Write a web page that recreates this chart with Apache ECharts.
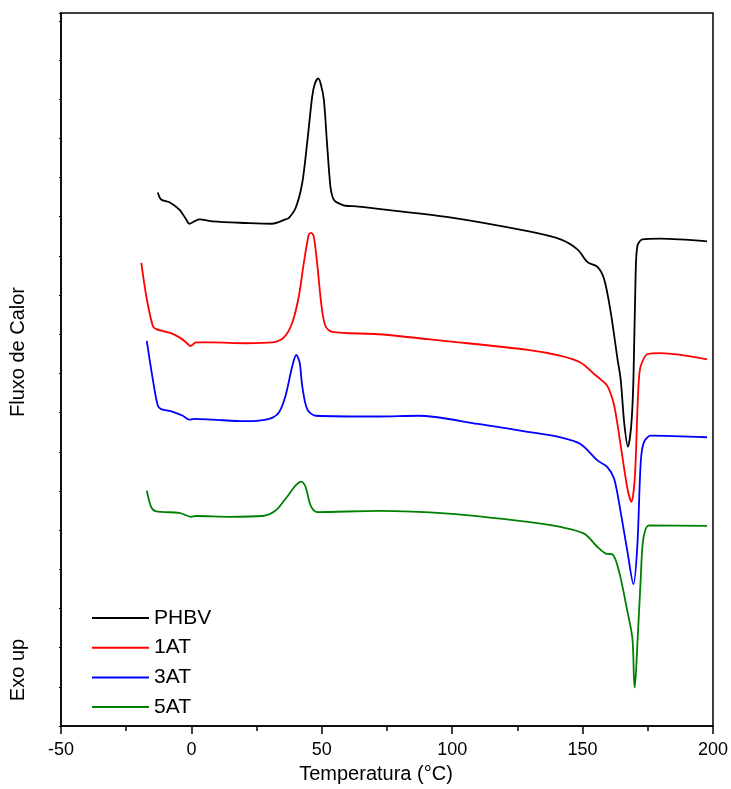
<!DOCTYPE html>
<html>
<head>
<meta charset="utf-8">
<script src="https://cdn.jsdelivr.net/npm/echarts@6/dist/echarts.min.js"></script>
<style>html,body{margin:0;padding:0;background:#fff}#c{width:731px;height:789px}</style>
</head>
<body>
<div id="c"></div>
<script>
// Temperature (°C) and heat flow (arbitrary units)
const seriesNames = ['PHBV', '1AT', '3AT', '5AT'];
const seriesColors = ['#000000', '#ff0000', '#0000ff', '#008000'];
const xTicks = [-50, 0, 50, 100, 150, 200];

const phbv = [
  [-12.9,13.62],[-11.6,13.44],[-8.4,13.37],[-4.6,13.18],[-2.0,12.93],[-0.8,12.82],[1.1,12.88],[3.1,12.93],
  [8.1,12.88],[20.9,12.84],[30.9,12.82],[36.1,12.93],[37.4,12.97],[40.0,13.23],[42.5,13.86],[44.4,14.89],
  [46.3,16.06],[47.3,16.39],[48.6,16.53],[49.6,16.39],[50.8,15.98],[52.0,14.88],[53.3,13.77],[54.2,13.49],
  [55.2,13.39],[57.6,13.31],[59.0,13.28],[64.1,13.26],[71.8,13.20],[98.5,12.99],[129.0,12.63],[141.6,12.42],
  [148.1,12.16],[151.9,11.84],[155.7,11.72],[158.3,11.40],[160.8,10.56],[163.4,9.36],[164.6,8.85],[166.0,7.71],
  [167.4,7.13],[168.7,7.71],[169.5,8.85],[170.3,11.40],[171.0,12.25],[172.9,12.42],[179.8,12.44],[197.7,12.37]
];
const at1 = [
  [-19.2,11.82],[-17.3,10.97],[-14.8,10.21],[-13.5,10.13],[-8.4,10.04],[-4.6,9.92],[-2.0,9.79],[-0.4,9.70],
  [1.8,9.79],[8.1,9.79],[20.9,9.77],[31.0,9.79],[35.5,9.92],[38.7,10.30],[41.2,10.97],[43.1,11.82],
  [45.0,12.54],[45.9,12.59],[46.9,12.50],[48.2,11.82],[49.9,10.72],[51.4,10.21],[53.9,10.06],[71.8,10.00],
  [98.5,9.82],[129.0,9.60],[141.6,9.45],[149.2,9.28],[154.5,8.98],[156.9,8.85],[159.5,8.68],[162.1,8.18],
  [164.6,7.16],[167.2,6.06],[168.7,5.72],[170.0,6.31],[171.0,8.02],[171.6,8.85],[172.3,9.19],[174.8,9.49],
  [179.9,9.52],[197.7,9.36]
];
const at3 = [
  [-17.1,9.83],[-14.8,8.85],[-12.9,8.18],[-11.6,8.09],[-7.1,8.02],[-3.3,7.92],[-0.8,7.82],[1.1,7.84],
  [8.1,7.82],[20.9,7.78],[29.8,7.84],[33.6,8.01],[36.1,8.43],[38.7,9.19],[40.2,9.47],[41.5,9.28],
  [42.5,8.68],[44.4,8.09],[47.6,7.92],[71.8,7.90],[87.0,7.92],[109.9,7.71],[129.0,7.51],[141.6,7.37],
  [149.2,7.20],[155.7,6.78],[159.5,6.61],[162.1,6.31],[164.6,5.46],[167.2,4.45],[169.5,3.62],[171.0,4.61],
  [172.3,6.74],[173.5,7.24],[176.1,7.41],[197.7,7.37]
];
const at5 = [
  [-17.1,6.01],[-15.4,5.59],[-13.5,5.48],[-4.6,5.44],[-0.1,5.34],[1.8,5.36],[14.5,5.34],[27.2,5.36],
  [32.3,5.50],[36.1,5.80],[40.0,6.14],[42.1,6.24],[43.8,6.10],[45.7,5.63],[48.2,5.46],[71.8,5.49],
  [98.5,5.42],[129.0,5.21],[141.6,5.08],[150.6,4.91],[155.7,4.57],[158.9,4.40],[161.5,4.38],[164.0,3.94],
  [167.2,2.92],[169.1,2.24],[169.7,1.22],[170.0,0.98],[171.0,2.07],[172.3,3.77],[173.3,4.78],[175.5,5.12],
  [197.7,5.11]
];
const allData = [phbv, at1, at3, at5];

const FONT = '"Liberation Sans", Arial, sans-serif';
const chart = echarts.init(document.getElementById('c'), null, {renderer: 'canvas'});
chart.setOption({
  animation: false,
  backgroundColor: '#ffffff',
  grid: {left: 61, right: 16, top: 13, bottom: 61, show: true, borderColor: '#000', borderWidth: 1.5, backgroundColor: 'transparent'},
  legend: {
    orient: 'vertical', left: 87, top: 602,
    itemWidth: 57, itemHeight: 2, itemGap: 7.7, icon: 'rect',
    textStyle: {fontFamily: FONT, fontSize: 21, color: '#000', lineHeight: 22},
    data: seriesNames
  },
  xAxis: {
    type: 'value', min: xTicks[0], max: xTicks[xTicks.length - 1], interval: 50,
    name: 'Temperatura (°C)', nameLocation: 'middle', nameGap: 38,
    nameTextStyle: {fontFamily: FONT, fontSize: 20, color: '#000', padding: [0, 22, 0, 0]},
    axisLine: {onZero: false, lineStyle: {color: '#000', width: 1.5}},
    axisTick: {show: true, length: 8, inside: false, lineStyle: {color: '#000', width: 1.5}},
    minorTick: {show: true, splitNumber: 2, length: 5, lineStyle: {color: '#000', width: 1.5}},
    axisLabel: {fontFamily: FONT, fontSize: 18, color: '#000', margin: 15},
    splitLine: {show: false}
  },
  yAxis: {
    type: 'value', min: 0, max: 18.2, interval: 1,
    axisLine: {show: true, onZero: false, lineStyle: {color: '#000', width: 1.5}},
    axisTick: {show: true, length: 2, lineStyle: {color: '#000', width: 1}},
    axisLabel: {show: false},
    splitLine: {show: false}
  },
  graphic: [
    {type: 'text', x: 18, y: 352, rotation: Math.PI / 2,
      style: {text: 'Fluxo de Calor', font: '20px ' + FONT, fill: '#000', textAlign: 'center', textVerticalAlign: 'middle'}},
    {type: 'text', x: 18, y: 670, rotation: Math.PI / 2,
      style: {text: 'Exo up', font: '20px ' + FONT, fill: '#000', textAlign: 'center', textVerticalAlign: 'middle'}}
  ],
  series: seriesNames.map((n, i) => ({
    name: n, type: 'line', data: allData[i], showSymbol: false, symbol: 'none',
    smooth: 0.3,
    lineStyle: {color: seriesColors[i], width: 1.8}, itemStyle: {color: seriesColors[i]}
  }))
});
</script>
</body>
</html>
